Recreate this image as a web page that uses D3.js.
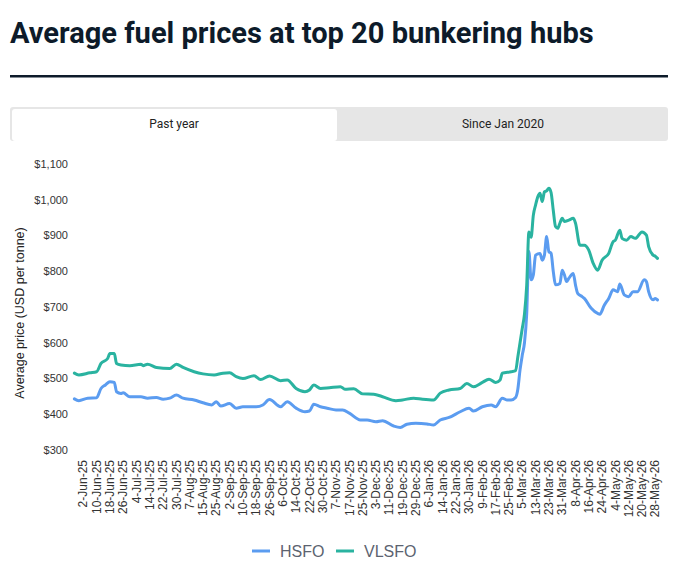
<!DOCTYPE html>
<html>
<head>
<meta charset="utf-8">
<script src="https://cdn.jsdelivr.net/npm/d3@7"></script>
<style>
  body { margin: 0; background: #fff; }
  svg { display: block; }
</style>
</head>
<body>
<div id="chart"></div>
<script>
var width = 680;
var height = 574;

// x axis labels, every 6th business day
var tickLabels = ["2-Jun-25", "10-Jun-25", "18-Jun-25", "26-Jun-25", "4-Jul-25", "14-Jul-25",
  "22-Jul-25", "30-Jul-25", "7-Aug-25", "15-Aug-25", "25-Aug-25", "2-Sep-25", "10-Sep-25",
  "18-Sep-25", "26-Sep-25", "6-Oct-25", "14-Oct-25", "22-Oct-25", "30-Oct-25", "7-Nov-25",
  "17-Nov-25", "25-Nov-25", "3-Dec-25", "11-Dec-25", "19-Dec-25", "29-Dec-25", "6-Jan-26",
  "14-Jan-26", "22-Jan-26", "30-Jan-26", "9-Feb-26", "17-Feb-26", "25-Feb-26", "5-Mar-26",
  "13-Mar-26", "23-Mar-26", "31-Mar-26", "8-Apr-26", "16-Apr-26", "24-Apr-26", "4-May-26",
  "12-May-26", "20-May-26", "28-May-26"];

var yTicks = [300, 400, 500, 600, 700, 800, 900, 1000, 1100];

var firstDay = "2025-05-27";
var lastDay = "2026-05-29";

// USD per tonne
var hsfoPoints = [
  ["2025-05-27", 443], ["2025-05-29", 438], ["2025-06-04", 445], ["2025-06-10", 446],
  ["2025-06-12", 472], ["2025-06-16", 482], ["2025-06-18", 491], ["2025-06-20", 489],
  ["2025-06-23", 463], ["2025-06-25", 458], ["2025-06-26", 460], ["2025-07-01", 449],
  ["2025-07-08", 449], ["2025-07-11", 445], ["2025-07-17", 447], ["2025-07-22", 442],
  ["2025-07-25", 445], ["2025-07-30", 454], ["2025-08-04", 445], ["2025-08-11", 440],
  ["2025-08-15", 432], ["2025-08-21", 426], ["2025-08-25", 435], ["2025-08-27", 423],
  ["2025-09-02", 430], ["2025-09-05", 417], ["2025-09-10", 421], ["2025-09-18", 421],
  ["2025-09-23", 426], ["2025-09-26", 441], ["2025-10-03", 421], ["2025-10-08", 435],
  ["2025-10-14", 417], ["2025-10-20", 407], ["2025-10-22", 409], ["2025-10-24", 428],
  ["2025-10-29", 421], ["2025-11-03", 417], ["2025-11-07", 412], ["2025-11-12", 412],
  ["2025-11-17", 403], ["2025-11-24", 384], ["2025-11-27", 384], ["2025-12-03", 379],
  ["2025-12-08", 382], ["2025-12-15", 367], ["2025-12-18", 363], ["2025-12-23", 372],
  ["2025-12-29", 375], ["2026-01-05", 373], ["2026-01-08", 370], ["2026-01-13", 384],
  ["2026-01-19", 391], ["2026-01-26", 407], ["2026-01-30", 417], ["2026-02-03", 409],
  ["2026-02-09", 421], ["2026-02-13", 426], ["2026-02-17", 421], ["2026-02-20", 445],
  ["2026-02-24", 440], ["2026-02-26", 440], ["2026-03-02", 447], ["2026-03-03", 470],
  ["2026-03-04", 524], ["2026-03-05", 565], ["2026-03-06", 600], ["2026-03-09", 680],
  ["2026-03-10", 855], ["2026-03-11", 776], ["2026-03-12", 790], ["2026-03-13", 845],
  ["2026-03-17", 850], ["2026-03-18", 831], ["2026-03-19", 845], ["2026-03-20", 897],
  ["2026-03-23", 855], ["2026-03-24", 850], ["2026-03-25", 799], ["2026-03-26", 762],
  ["2026-03-30", 766], ["2026-03-31", 803], ["2026-04-01", 790], ["2026-04-02", 771],
  ["2026-04-03", 780], ["2026-04-07", 794], ["2026-04-08", 762], ["2026-04-09", 738],
  ["2026-04-13", 729], ["2026-04-14", 724], ["2026-04-17", 697], ["2026-04-22", 682],
  ["2026-04-23", 680], ["2026-04-27", 705], ["2026-04-29", 724], ["2026-05-01", 748],
  ["2026-05-05", 743], ["2026-05-06", 764], ["2026-05-08", 734], ["2026-05-12", 729],
  ["2026-05-14", 743], ["2026-05-18", 743], ["2026-05-21", 776], ["2026-05-22", 771],
  ["2026-05-25", 743], ["2026-05-27", 720], ["2026-05-28", 724], ["2026-05-29", 720]
];

var vlsfoPoints = [
  ["2025-05-27", 515], ["2025-05-29", 510], ["2025-06-05", 516], ["2025-06-10", 519],
  ["2025-06-12", 542], ["2025-06-17", 556], ["2025-06-18", 570], ["2025-06-20", 570],
  ["2025-06-23", 542], ["2025-06-25", 538], ["2025-07-01", 536], ["2025-07-08", 540],
  ["2025-07-09", 536], ["2025-07-11", 540], ["2025-07-17", 531], ["2025-07-25", 528],
  ["2025-07-30", 540], ["2025-08-04", 531], ["2025-08-11", 519], ["2025-08-15", 513],
  ["2025-08-22", 510], ["2025-08-28", 515], ["2025-09-02", 516], ["2025-09-05", 505],
  ["2025-09-10", 500], ["2025-09-17", 508], ["2025-09-22", 497], ["2025-09-26", 507],
  ["2025-10-03", 494], ["2025-10-08", 496], ["2025-10-14", 472], ["2025-10-20", 463],
  ["2025-10-22", 468], ["2025-10-24", 482], ["2025-10-29", 472], ["2025-11-04", 474],
  ["2025-11-11", 477], ["2025-11-13", 470], ["2025-11-19", 471], ["2025-11-25", 457],
  ["2025-12-02", 456], ["2025-12-08", 449], ["2025-12-16", 438], ["2025-12-19", 440],
  ["2025-12-26", 445], ["2026-01-01", 442], ["2026-01-08", 440], ["2026-01-13", 459],
  ["2026-01-19", 468], ["2026-01-26", 472], ["2026-01-29", 486], ["2026-02-03", 477],
  ["2026-02-09", 489], ["2026-02-12", 498], ["2026-02-17", 489], ["2026-02-19", 496],
  ["2026-02-20", 515], ["2026-02-26", 519], ["2026-03-02", 522], ["2026-03-03", 560],
  ["2026-03-04", 600], ["2026-03-05", 640], ["2026-03-06", 680], ["2026-03-09", 760],
  ["2026-03-10", 910], ["2026-03-11", 895], ["2026-03-12", 957], ["2026-03-13", 985],
  ["2026-03-16", 1008], ["2026-03-17", 1018], ["2026-03-18", 995], ["2026-03-19", 1022],
  ["2026-03-20", 1025], ["2026-03-23", 1032], ["2026-03-24", 1020], ["2026-03-25", 970],
  ["2026-03-26", 925], ["2026-03-27", 920], ["2026-03-30", 935], ["2026-03-31", 948],
  ["2026-04-01", 939], ["2026-04-03", 943], ["2026-04-07", 948], ["2026-04-08", 935],
  ["2026-04-10", 873], ["2026-04-14", 873], ["2026-04-16", 859], ["2026-04-20", 822],
  ["2026-04-22", 803], ["2026-04-24", 831], ["2026-04-29", 850], ["2026-05-01", 883],
  ["2026-05-04", 887], ["2026-05-06", 915], ["2026-05-07", 892], ["2026-05-11", 887],
  ["2026-05-13", 897], ["2026-05-15", 892], ["2026-05-20", 910], ["2026-05-22", 901],
  ["2026-05-25", 869], ["2026-05-27", 845], ["2026-05-28", 842], ["2026-05-29", 836]
];

var seriesNames = ["HSFO", "VLSFO"];
var seriesColors = ["#5b9cf0", "#2ab3a0"];

var isoFormat = d3.utcFormat("%Y-%m-%d");
var isoParse = d3.utcParse("%Y-%m-%d");
var labelParse = d3.utcParse("%e-%b-%y");

// category axis of business days
var businessDays = d3.utcDays(isoParse(firstDay), d3.utcDay.offset(isoParse(lastDay), 1))
  .filter(function(d) { return d.getUTCDay() > 0 && d.getUTCDay() < 6; })
  .map(isoFormat);

var x = d3.scalePoint()
  .domain(businessDays)
  .range([74.4, 657.5]);

var y = d3.scaleLinear()
  .domain([300, 1100])
  .range([450, 164]);

var svg = d3.select("#chart")
  .append("svg")
  .attr("width", width)
  .attr("height", height);

//Title and rule
var title = svg.append("text")
  .attr("x", 10)
  .attr("y", 43)
  .style("font-family", "Roboto, sans-serif")
  .style("font-weight", "700")
  .style("font-size", "26px")
  .style("fill", "#0d1b2a")
  .text("Average fuel prices at top 20 bunkering hubs");
var tw = title.node().getComputedTextLength();
title.style("font-size", (26 * 584 / tw).toFixed(2) + "px");

svg.append("rect")
  .attr("x", 10).attr("y", 75)
  .attr("width", 658).attr("height", 2.5)
  .style("fill", "#0d1b2a");

//Tabs
svg.append("rect")
  .attr("x", 10).attr("y", 107)
  .attr("width", 658).attr("height", 34)
  .attr("rx", 3)
  .style("fill", "#e6e6e6");
svg.append("rect")
  .attr("x", 12).attr("y", 109)
  .attr("width", 325).attr("height", 32)
  .attr("rx", 3)
  .style("fill", "#fff");

var tabNames = ["Past year", "Since Jan 2020"];
svg.selectAll(".tab")
  .data(tabNames)
  .enter()
  .append("text")
  .attr("class", "tab")
  .attr("x", function(d, i) { return i == 0 ? 174 : 503; })
  .attr("y", 128)
  .attr("text-anchor", "middle")
  .style("font-family", "Roboto, sans-serif")
  .style("font-size", "12px")
  .style("fill", "#222")
  .text(function(d) { return d; });

//Y axis labels
svg.selectAll(".ylab")
  .data(yTicks)
  .enter()
  .append("text")
  .attr("class", "ylab")
  .attr("x", 68)
  .attr("y", function(d) { return y(d); })
  .attr("dy", "0.35em")
  .attr("text-anchor", "end")
  .style("font-family", "'Liberation Sans', Arial, sans-serif")
  .style("font-size", "11px")
  .style("fill", "#333")
  .text(function(d) { return d3.format("$,")(d); });

svg.append("text")
  .attr("transform", "translate(24,313) rotate(-90)")
  .attr("text-anchor", "middle")
  .style("font-family", "'Liberation Sans', Arial, sans-serif")
  .style("font-size", "12.5px")
  .style("fill", "#222")
  .text("Average price (USD per tonne)");

//X axis labels
svg.selectAll(".xlab")
  .data(tickLabels)
  .enter()
  .append("text")
  .attr("class", "xlab")
  .attr("transform", function(d) {
    return "translate(" + x(isoFormat(labelParse(d))) + ",460) rotate(-90)";
  })
  .attr("dy", "0.35em")
  .attr("text-anchor", "end")
  .style("font-family", "'Liberation Sans', Arial, sans-serif")
  .style("font-size", "12px")
  .style("fill", "#333")
  .text(function(d) { return d; });

//Lines
var line = d3.line()
  .x(function(d) { return x(d[0]); })
  .y(function(d) { return y(d[1]); })
  .curve(d3.curveMonotoneX);

[hsfoPoints, vlsfoPoints].forEach(function(pts, i) {
  svg.append("path")
    .datum(pts)
    .attr("d", line)
    .style("fill", "none")
    .style("stroke", seriesColors[i])
    .style("stroke-width", 3)
    .style("stroke-linejoin", "round")
    .style("stroke-linecap", "round");
});

//Legend
var legend = svg.selectAll(".legend")
  .data(seriesNames)
  .enter()
  .append("g")
  .attr("class", "legend")
  .attr("transform", function(d, i) { return "translate(" + (i == 0 ? 252 : 336) + ",551)"; });

legend.append("line")
  .attr("x1", 0).attr("x2", 18)
  .style("stroke", function(d, i) { return seriesColors[i]; })
  .style("stroke-width", 3);

legend.append("text")
  .attr("x", 28)
  .attr("dy", "0.35em")
  .style("font-family", "'Liberation Sans', Arial, sans-serif")
  .style("font-size", "16px")
  .style("fill", "#5c6370")
  .text(function(d) { return d; });
</script>
</body>
</html>
